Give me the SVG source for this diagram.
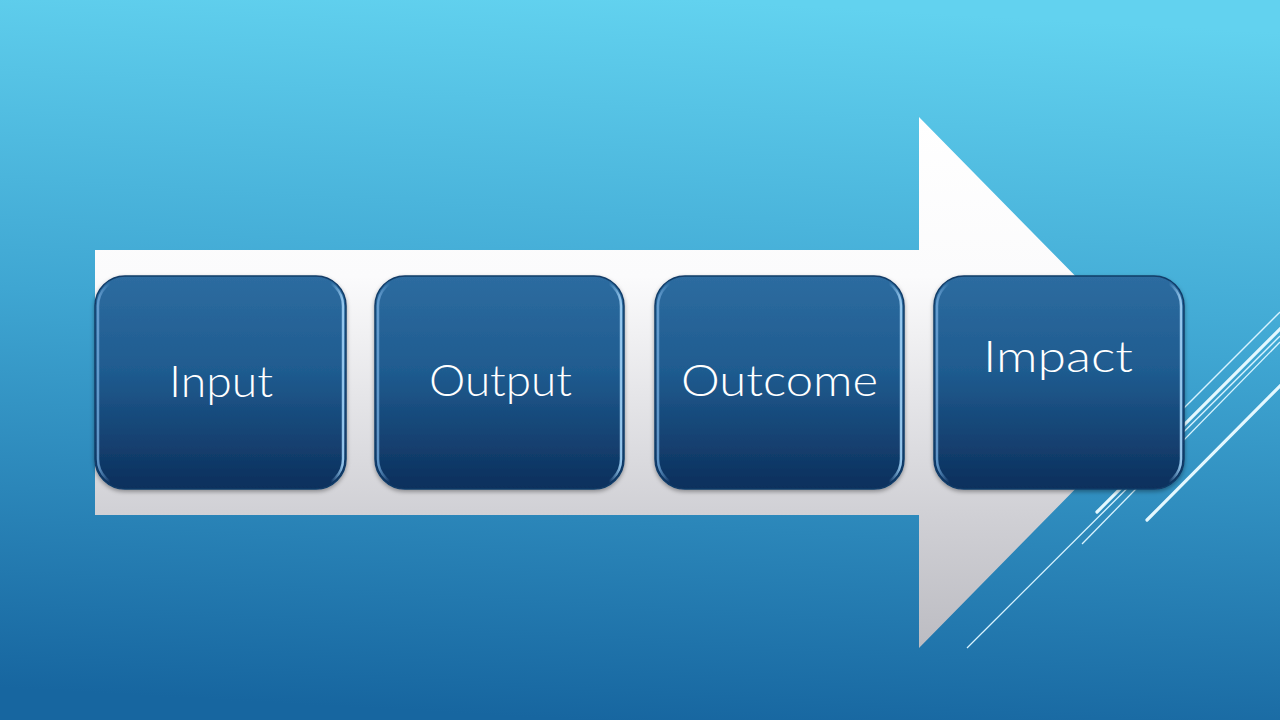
<svg xmlns="http://www.w3.org/2000/svg" width="1280" height="720" viewBox="0 0 1280 720">
  <defs>
    <linearGradient id="bg" x1="0.55" y1="0" x2="0.45" y2="1">
      <stop offset="0" stop-color="#62d2ef"/>
      <stop offset="0.45" stop-color="#3fa6d2"/>
      <stop offset="1" stop-color="#1766a0"/>
    </linearGradient>
    <linearGradient id="arrowFill" gradientUnits="userSpaceOnUse" x1="0" y1="117" x2="0" y2="648">
      <stop offset="0" stop-color="#ffffff"/>
      <stop offset="0.3" stop-color="#fbfbfc"/>
      <stop offset="0.75" stop-color="#d0d0d5"/>
      <stop offset="1" stop-color="#bcbcc2"/>
    </linearGradient>
    <linearGradient id="boxFill" x1="0" y1="0" x2="0" y2="1">
      <stop offset="0" stop-color="#2d6ca0"/>
      <stop offset="0.45" stop-color="#1f5b8f"/>
      <stop offset="1" stop-color="#0c2f5c"/>
    </linearGradient>
    <linearGradient id="rim" x1="0" y1="0" x2="1" y2="0">
      <stop offset="0" stop-color="#6fa6d8" stop-opacity="0.85"/>
      <stop offset="0.05" stop-color="#6fa6d8" stop-opacity="0"/>
      <stop offset="0.95" stop-color="#8cc3ee" stop-opacity="0"/>
      <stop offset="1" stop-color="#9ccdf2" stop-opacity="0.95"/>
    </linearGradient>
    <filter id="shadow" x="-10%" y="-10%" width="120%" height="125%">
      <feDropShadow dx="0" dy="2" stdDeviation="2" flood-color="#000" flood-opacity="0.35"/>
    </filter>
  </defs>
  <style>
    .box { fill: url(#boxFill); stroke: #123c68; stroke-width: 1.5; filter: url(#shadow); }
    .rim { fill: none; stroke: url(#rim); stroke-width: 2.5; }
    .label { font-family: Lato, "Open Sans", "Liberation Sans", sans-serif; font-weight: 300; font-size: 43px; fill: #ffffff; text-anchor: middle; }
    .thin { stroke: #d8f4ff; stroke-width: 1.3; fill: none; }
    .thick { stroke: #e4f8ff; stroke-width: 3.2; fill: none; stroke-linecap: round; }
  </style>

  <rect x="0" y="0" width="1280" height="720" fill="url(#bg)"/>

  <g id="decor-lines">
    <line class="thin" x1="1280" y1="312" x2="1150" y2="442"/>
    <line class="thick" x1="1282" y1="327" x2="1097" y2="512"/>
    <line class="thin" x1="1280" y1="336" x2="967" y2="648"/>
    <line class="thin" x1="1280" y1="342" x2="1082" y2="544"/>
    <line class="thick" x1="1282" y1="384" x2="1147" y2="520"/>
  </g>

  <g id="arrow">
    <path d="M95,250 L919,250 L919,117 L1180,382.5 L919,648 L919,515 L95,515 Z" fill="url(#arrowFill)"/>
  </g>

  <g id="node-input">
    <rect class="box" x="95" y="276" width="251" height="213" rx="30" ry="30"/>
    <rect class="rim" x="98" y="279" width="245" height="207" rx="27" ry="27"/>
    <text class="label" x="221" y="397" textLength="104" lengthAdjust="spacingAndGlyphs">Input</text>
  </g>

  <g id="node-output">
    <rect class="box" x="375" y="276" width="249" height="213" rx="30" ry="30"/>
    <rect class="rim" x="378" y="279" width="243" height="207" rx="27" ry="27"/>
    <text class="label" x="500.5" y="396" textLength="143" lengthAdjust="spacingAndGlyphs">Output</text>
  </g>

  <g id="node-outcome">
    <rect class="box" x="655" y="276" width="249" height="213" rx="30" ry="30"/>
    <rect class="rim" x="658" y="279" width="243" height="207" rx="27" ry="27"/>
    <text class="label" x="779.5" y="396" textLength="197" lengthAdjust="spacingAndGlyphs">Outcome</text>
  </g>

  <g id="node-impact">
    <rect class="box" x="934" y="276" width="250" height="213" rx="30" ry="30"/>
    <rect class="rim" x="937" y="279" width="244" height="207" rx="27" ry="27"/>
    <text class="label" x="1058" y="372" textLength="150" lengthAdjust="spacingAndGlyphs">Impact</text>
  </g>
</svg>
